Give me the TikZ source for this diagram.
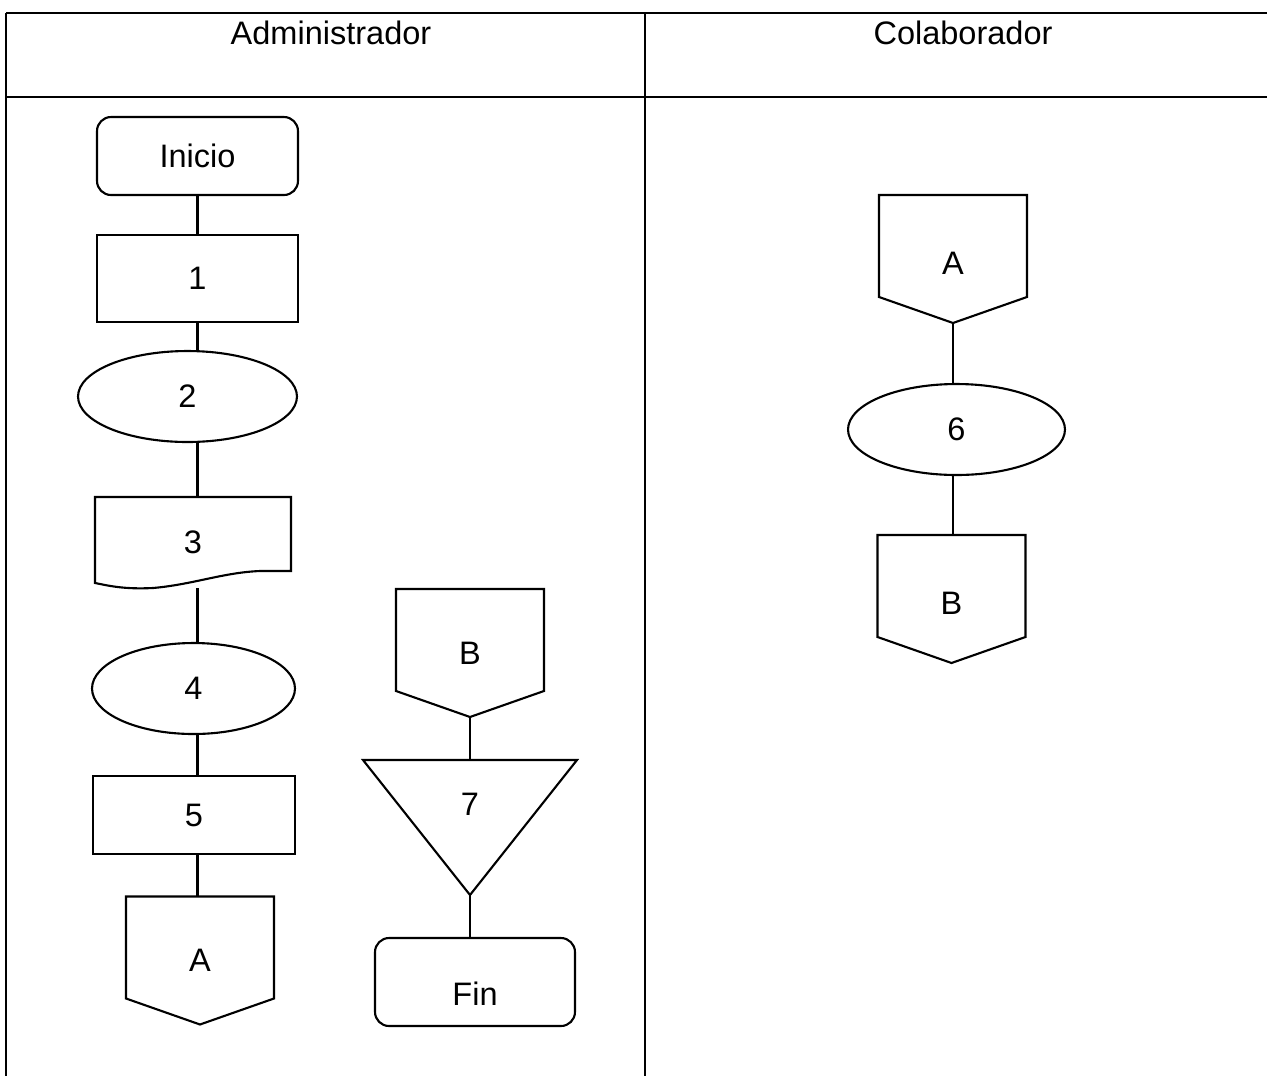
\documentclass[tikz,border=0pt]{standalone}
\usepackage{fontspec}
\setmainfont{Liberation Sans}
\usetikzlibrary{shapes.geometric,calc}
\newcommand{\offpage}[1]{\draw (#1.north west) -- (#1.north east) -- ($(#1.south east)+(0,-26)$) -- (#1.south) -- ($(#1.south west)+(0,-26)$) -- cycle;}
\newcommand{\docshape}[1]{\draw[shift={(#1.center)}] (-98,-45.5) -- (98,-45.5) -- (98,28.5) -- (67,28.5) .. controls (30,30) and (0,42) .. (-40,45.5) .. controls (-70,47) and (-85,43) .. (-98,40.5) -- cycle;}
\newcommand{\merge}[1]{\draw (#1.north west) -- (#1.north east) -- (#1.south) -- cycle;}

\begin{document}
\begin{tikzpicture}[x=0.02cm, y=-0.02cm, line width=1.2pt]
        \tikzset{
            every node/.style={inner sep=0pt, outer sep=0pt, font=\fontsize{18.5}{22}\selectfont},
            term/.style={draw, rectangle, rounded corners=0.28cm, minimum width=4.02cm, minimum height=1.56cm},
            proc/.style={draw, rectangle, minimum width=4.02cm, minimum height=1.74cm},
            oval/.style={draw, ellipse, minimum width=4.3cm, minimum height=1.82cm},
            conn/.style={minimum width=2.96cm, minimum height=2.56cm},
            head/.style={anchor=center}
        }
        \useasboundingbox (0,0) rectangle (1267,1076);

        % lanes
        \begin{scope}[line width=0.8pt]
            \draw (6,13) -- (1267,13);
            \draw (6,97) -- (1267,97);
            \draw (6,13) -- (6,1076);
            \draw (645,13) -- (645,1076);
        \end{scope}
        \node[head] (adm) at (331,33) {Administrador};
        \node[head] (col) at (963,33) {Colaborador};

        \begin{scope}[shift={(0, 0)}]
            \node[term] (inicio) at (197.5,156) {Inicio};
            \node[proc] (1) at (197.5,278.5) {1};
            \node[oval, minimum width=4.38cm] (2) at (187.5,396.5) {2};
            \node[minimum width=3.92cm, minimum height=1.82cm] (3) at (193,542.5) {3};
            \node[oval, minimum width=4.06cm] (4) at (193.5,688.5) {4};
            \node[proc, minimum width=4.04cm, minimum height=1.56cm] (5) at (194,815) {5};
            \node[conn] (a1) at (200,960.5) {A};

            \node[conn] (b1) at (470,653) {B};
            \node[minimum width=4.28cm, minimum height=2.7cm, text height=0pt, text depth=0.48cm] (7) at (470,827.5) {7};
            \node[term, minimum width=4cm, minimum height=1.76cm, text height=0.95cm, text depth=0pt] (fin) at (475,982) {Fin};

            \node[conn, text height=0.6cm, text depth=0pt] (a2) at (953,259) {A};
            \node[oval, minimum width=4.34cm] (6) at (956.5,429.5) {6};
            \node[conn, text height=0.6cm, text depth=0pt] (b2) at (951.5,599) {B};
        \end{scope}

        \docshape{3}
        \merge{7}
        \offpage{a1}
        \offpage{b1}
        \offpage{a2}
        \offpage{b2}

        \begin{scope}[line width=1.2pt]
            \draw (inicio.south) -- (inicio |- 1.north);
            \draw (inicio |- 1.south) -- (inicio |- 2.north);
            \draw (inicio |- 2.south) -- (inicio |- 3.north);
            \draw (inicio |- 3.south) -- (inicio |- 4.north);
            \draw (inicio |- 4.south) -- (inicio |- 5.north);
            \draw (inicio |- 5.south) -- (inicio |- a1.north);
            \draw (b1.south) -- (7.north);
            \draw (7.south) -- (7.south |- fin.north);
            \draw (a2.south) -- (a2.south |- 6.north);
            \draw (a2 |- 6.south) -- (a2 |- b2.north);
        \end{scope}

\end{tikzpicture}
\end{document}
